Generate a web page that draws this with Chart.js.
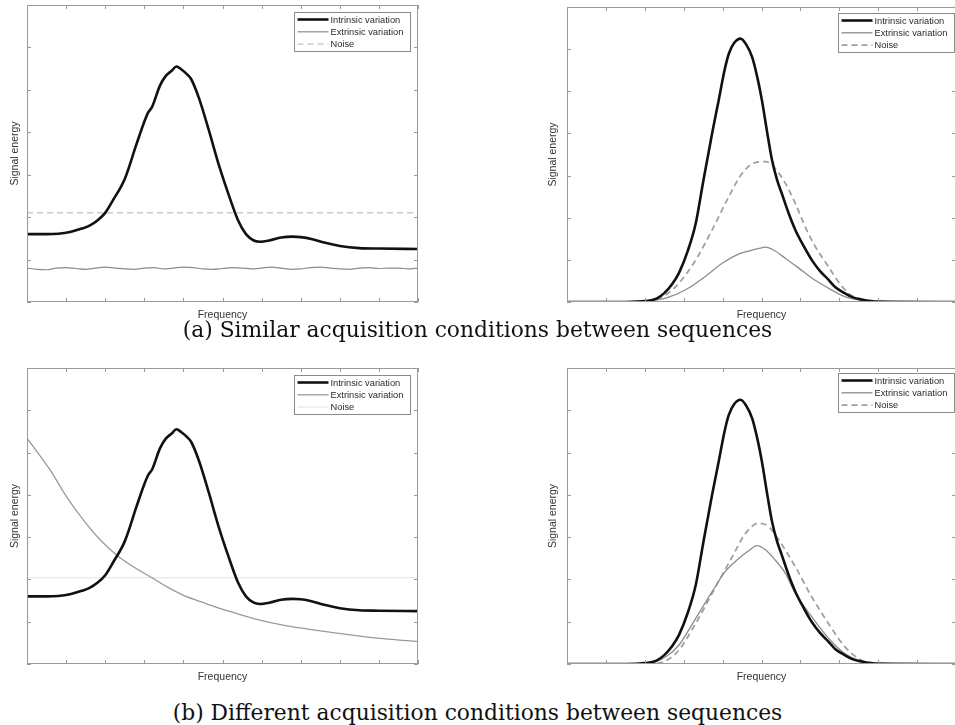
<!DOCTYPE html>
<html>
<head>
<meta charset="utf-8">
<title>Signal energy vs frequency</title>
<script src="https://cdn.jsdelivr.net/npm/chart.js@4.4.1/dist/chart.umd.min.js"></script>
<style>
    html, body { margin: 0; padding: 0; background: #fff; }
    body { width: 955px; height: 725px; position: relative; overflow: hidden; }
    .panel { position: absolute; }
    .caption {
        position: absolute; left: 0; width: 955px; text-align: center;
        font-family: "DejaVu Serif", serif; font-size: 21.8px; color: #111;
        line-height: 24px;
    }
</style>
</head>
<body>
<div class="panel" style="left:0;top:0;width:440px;height:325px"><canvas id="chartA1"></canvas></div>
<div class="panel" style="left:480px;top:0;width:480px;height:325px"><canvas id="chartA2"></canvas></div>
<div class="caption" style="top:318px">(a) Similar acquisition conditions between sequences</div>
<div class="panel" style="left:0;top:360px;width:440px;height:325px"><canvas id="chartB1"></canvas></div>
<div class="panel" style="left:480px;top:360px;width:480px;height:325px"><canvas id="chartB2"></canvas></div>
<div class="caption" style="top:701px">(b) Different acquisition conditions between sequences</div>

<script>
// axis ticks (no labels shown, only tick marks)
const xTickValues = [0, 1, 2, 3, 4, 5, 6, 7, 8, 9, 10];
const yTickValues = [0, 1, 2, 3, 4, 5, 6, 7];

const seriesNames = ['Intrinsic variation', 'Extrinsic variation', 'Noise'];

// left column: intrinsic curve with a main peak and a small secondary bump
const freqIntrinsicLeft = [0, 0.5, 0.8, 1.1, 1.4, 1.6, 1.8, 2.0, 2.2, 2.5, 2.8, 3.0, 3.1, 3.2, 3.4, 3.55, 3.7, 3.82, 3.95, 4.1, 4.2, 4.4, 4.65, 4.9, 5.15, 5.4, 5.6, 5.8, 5.95, 6.2, 6.5, 6.8, 7.0, 7.3, 7.6, 8.0, 8.5, 9.0, 10];
const intrinsicLeft = [1.60, 1.60, 1.61, 1.65, 1.73, 1.80, 1.92, 2.10, 2.40, 2.90, 3.72, 4.25, 4.47, 4.60, 5.10, 5.33, 5.45, 5.55, 5.48, 5.36, 5.25, 4.80, 4.05, 3.25, 2.55, 1.92, 1.60, 1.45, 1.42, 1.45, 1.52, 1.54, 1.53, 1.48, 1.40, 1.32, 1.27, 1.26, 1.25];

// (a) left: flat, slightly jittery extrinsic level and constant noise level
const freqExtrinsicA1 = [0, 0.25, 0.5, 0.75, 1, 1.25, 1.5, 1.75, 2, 2.25, 2.5, 2.75, 3, 3.25, 3.5, 3.75, 4, 4.25, 4.5, 4.75, 5, 5.25, 5.5, 5.75, 6, 6.25, 6.5, 6.75, 7, 7.25, 7.5, 7.75, 8, 8.25, 8.5, 8.75, 9, 9.25, 9.5, 9.75, 10];
const extrinsicA1 = [0.80, 0.77, 0.76, 0.80, 0.81, 0.79, 0.77, 0.80, 0.82, 0.80, 0.78, 0.77, 0.80, 0.81, 0.78, 0.80, 0.82, 0.81, 0.78, 0.77, 0.79, 0.81, 0.80, 0.78, 0.80, 0.82, 0.80, 0.77, 0.78, 0.81, 0.82, 0.80, 0.78, 0.77, 0.80, 0.81, 0.79, 0.80, 0.80, 0.78, 0.80];
const freqNoiseA1 = [0, 10];
const noiseA1 = [2.1, 2.1];

// (b) left: decaying extrinsic curve, faint noise level
const freqExtrinsicB1 = [0, 0.59, 1.01, 1.44, 1.87, 2.29, 2.72, 3.14, 3.57, 3.99, 4.42, 4.85, 5.27, 5.95, 6.55, 7.23, 7.83, 8.51, 9.11, 10];
const extrinsicB1 = [5.34, 4.59, 3.96, 3.41, 2.94, 2.58, 2.30, 2.07, 1.83, 1.63, 1.48, 1.34, 1.22, 1.04, 0.92, 0.82, 0.74, 0.66, 0.60, 0.53];
const freqNoiseB1 = [0, 10];
const noiseB1 = [2.04, 2.04];

// right column: bell shaped curves
const freqIntrinsicRight = [0, 1.5, 2.0, 2.3, 2.5, 2.7, 2.88, 3.1, 3.31, 3.5, 3.73, 3.9, 4.05, 4.16, 4.3, 4.46, 4.6, 4.76, 4.9, 5.01, 5.15, 5.27, 5.4, 5.52, 5.7, 5.87, 6.1, 6.29, 6.5, 6.72, 6.9, 7.14, 7.35, 7.57, 8.0, 10];
const intrinsicRight = [0, 0, 0.02, 0.08, 0.21, 0.42, 0.69, 1.20, 1.87, 2.85, 4.00, 4.79, 5.50, 5.89, 6.15, 6.25, 6.12, 5.81, 5.30, 4.79, 4.00, 3.37, 2.90, 2.58, 2.10, 1.71, 1.30, 1.00, 0.74, 0.53, 0.35, 0.21, 0.11, 0.06, 0.01, 0];

const freqExtrinsicA2 = [0, 1.5, 2.03, 2.54, 3.05, 3.56, 3.99, 4.42, 4.67, 4.93, 5.10, 5.35, 5.61, 5.95, 6.29, 6.72, 7.14, 7.57, 8.0, 10];
const extrinsicA2 = [0, 0, 0.02, 0.09, 0.29, 0.61, 0.92, 1.14, 1.21, 1.27, 1.30, 1.21, 1.04, 0.81, 0.57, 0.33, 0.13, 0.04, 0, 0];
const freqNoiseA2 = [0, 2.0, 2.54, 2.88, 3.31, 3.73, 4.16, 4.50, 4.84, 5.10, 5.35, 5.61, 5.87, 6.12, 6.38, 6.72, 6.97, 7.23, 7.57, 8.0, 10];
const noiseA2 = [0, 0, 0.17, 0.45, 1.00, 1.71, 2.50, 3.05, 3.31, 3.33, 3.17, 2.82, 2.34, 1.79, 1.32, 0.84, 0.49, 0.21, 0.06, 0, 0];

const freqExtrinsicB2 = [0, 2.0, 2.54, 2.88, 3.31, 3.73, 4.07, 4.42, 4.67, 4.89, 5.10, 5.35, 5.61, 5.87, 6.29, 6.72, 7.14, 7.57, 8.0, 10];
const extrinsicB2 = [0, 0, 0.17, 0.45, 1.08, 1.71, 2.19, 2.50, 2.68, 2.80, 2.70, 2.46, 2.15, 1.67, 1.12, 0.61, 0.25, 0.06, 0, 0];
const freqNoiseB2 = [0, 2.2, 2.80, 3.31, 3.73, 4.25, 4.59, 4.93, 5.18, 5.44, 5.87, 6.29, 6.72, 7.14, 7.57, 8.0, 10];
const noiseB2 = [0, 0, 0.25, 0.96, 1.67, 2.54, 3.09, 3.33, 3.25, 2.94, 2.30, 1.59, 0.96, 0.41, 0.09, 0, 0];

function toPoints(xs, ys) {
    return xs.map((x, i) => ({ x: x, y: ys[i] }));
}

function makeDataset(label, xs, ys, style) {
    return {
        label: label,
        data: toPoints(xs, ys),
        borderColor: style.color,
        borderWidth: style.width,
        borderDash: style.dash || [],
        pointRadius: 0,
        fill: false,
        cubicInterpolationMode: 'monotone'
    };
}

// frame, inward tick marks, axis titles and the boxed legend
const framePlugin = {
    id: 'matlabFrame',
    afterDraw(chart, args, opts) {
        const ctx = chart.ctx;
        const area = chart.chartArea;
        const xs = chart.scales.x;
        const ys = chart.scales.y;
        ctx.save();
        ctx.strokeStyle = '#9a9a9a';
        ctx.lineWidth = 1;
        ctx.strokeRect(Math.round(area.left) + 0.5, Math.round(area.top) + 0.5,
            Math.round(area.width) - 1, Math.round(area.height) - 1);
        ctx.beginPath();
        xTickValues.forEach(v => {
            const px = Math.round(xs.getPixelForValue(v)) + 0.5;
            ctx.moveTo(px, area.bottom); ctx.lineTo(px, area.bottom - 4);
            ctx.moveTo(px, area.top); ctx.lineTo(px, area.top + 4);
        });
        yTickValues.forEach(v => {
            const py = Math.round(ys.getPixelForValue(v)) + 0.5;
            ctx.moveTo(area.left, py); ctx.lineTo(area.left + 4, py);
            ctx.moveTo(area.right, py); ctx.lineTo(area.right - 4, py);
        });
        ctx.stroke();

        // axis titles
        ctx.fillStyle = '#333';
        ctx.font = '10.5px "Liberation Sans", Arial, sans-serif';
        ctx.textAlign = 'center';
        ctx.textBaseline = 'middle';
        ctx.fillText('Frequency', (area.left + area.right) / 2, area.bottom + 13);
        ctx.save();
        ctx.translate(area.left - opts.yTitleOffset, (area.top + area.bottom) / 2);
        ctx.rotate(-Math.PI / 2);
        ctx.fillText('Signal energy', 0, 0);
        ctx.restore();

        // legend box in the upper right corner
        const boxW = 116, boxH = 39, rowH = 12.3;
        const bx = Math.round(area.right - opts.legendInset - boxW) + 0.5;
        const by = Math.round(area.top + opts.legendTop) + 0.5;
        ctx.fillStyle = '#fff';
        ctx.fillRect(bx, by, boxW, boxH);
        ctx.strokeStyle = '#8a8a8a';
        ctx.lineWidth = 1;
        ctx.strokeRect(bx, by, boxW, boxH);
        chart.data.datasets.forEach((ds, i) => {
            const cy = by + 7 + i * rowH;
            ctx.beginPath();
            ctx.strokeStyle = ds.borderColor;
            ctx.lineWidth = ds.borderWidth;
            ctx.setLineDash(ds.borderDash);
            ctx.moveTo(bx + 3, cy);
            ctx.lineTo(bx + 34, cy);
            ctx.stroke();
            ctx.setLineDash([]);
            ctx.fillStyle = '#2a2a2a';
            ctx.font = '9.3px "Liberation Sans", Arial, sans-serif';
            ctx.textAlign = 'left';
            ctx.fillText(ds.label, bx + 36, cy + 0.5);
        });
        ctx.restore();
    }
};

function drawPanel(canvasId, datasets, padding, yTitleOffset, legendInset, legendTop) {
    const canvas = document.getElementById(canvasId);
    const ctx = canvas.getContext('2d');
    return new Chart(ctx, {
        type: 'line',
        data: { datasets: datasets },
        options: {
            responsive: true,
            maintainAspectRatio: false,
            animation: false,
            layout: { padding: padding },
            plugins: {
                legend: { display: false },
                tooltip: { enabled: false },
                matlabFrame: { yTitleOffset: yTitleOffset, legendInset: legendInset, legendTop: legendTop }
            },
            scales: {
                x: { type: 'linear', min: 0, max: 10, display: false },
                y: { type: 'linear', min: 0, max: 7, display: false }
            }
        },
        plugins: [framePlugin]
    });
}

const intrinsicStyle = { color: '#111', width: 2.6 };

drawPanel('chartA1', [
    makeDataset(seriesNames[0], freqIntrinsicLeft, intrinsicLeft, intrinsicStyle),
    makeDataset(seriesNames[1], freqExtrinsicA1, extrinsicA1, { color: '#8c8c8c', width: 1.2 }),
    makeDataset(seriesNames[2], freqNoiseA1, noiseA1, { color: '#b0b0b0', width: 1, dash: [6, 4] })
], { left: 27, top: 5, right: 22, bottom: 23 }, 12, 8, 7);

drawPanel('chartA2', [
    makeDataset(seriesNames[0], freqIntrinsicRight, intrinsicRight, intrinsicStyle),
    makeDataset(seriesNames[1], freqExtrinsicA2, extrinsicA2, { color: '#8c8c8c', width: 1.3 }),
    makeDataset(seriesNames[2], freqNoiseA2, noiseA2, { color: '#a0a0a0', width: 1.8, dash: [6, 4] })
], { left: 87, top: 7, right: 4, bottom: 23 }, 14, 2, 6);

drawPanel('chartB1', [
    makeDataset(seriesNames[0], freqIntrinsicLeft, intrinsicLeft, intrinsicStyle),
    makeDataset(seriesNames[1], freqExtrinsicB1, extrinsicB1, { color: '#9a9a9a', width: 1.3 }),
    makeDataset(seriesNames[2], freqNoiseB1, noiseB1, { color: '#e2e2e2', width: 1 })
], { left: 27, top: 8, right: 22, bottom: 21 }, 12, 8, 7);

drawPanel('chartB2', [
    makeDataset(seriesNames[0], freqIntrinsicRight, intrinsicRight, intrinsicStyle),
    makeDataset(seriesNames[1], freqExtrinsicB2, extrinsicB2, { color: '#8c8c8c', width: 1.3 }),
    makeDataset(seriesNames[2], freqNoiseB2, noiseB2, { color: '#a0a0a0', width: 1.8, dash: [6, 4] })
], { left: 87, top: 8, right: 4, bottom: 21 }, 14, 2, 5);
</script>
</body>
</html>
